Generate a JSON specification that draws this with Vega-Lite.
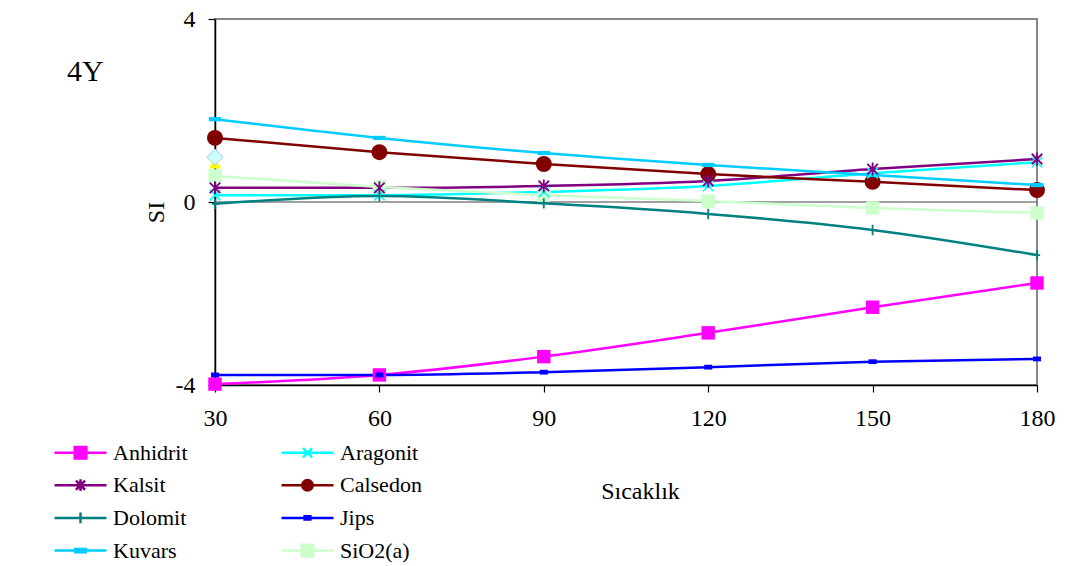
{
  "$schema": "https://vega.github.io/schema/vega-lite/v6.json",
  "width": 822,
  "height": 366,
  "autosize": "none",
  "padding": {"left": 215, "top": 19, "right": 53, "bottom": 181},
  "background": "white",
  "title": {
    "text": "4Y",
    "anchor": "start",
    "frame": "group",
    "orient": "top",
    "offset": 0,
    "dx": -148,
    "dy": 104,
    "baseline": "alphabetic",
    "font": "Liberation Serif",
    "fontSize": 30,
    "fontWeight": "normal",
    "color": "black"
  },
  "config": {
    "view": {"stroke": "#888888", "strokeWidth": 2},
    "axis": {
      "labelFont": "Liberation Serif",
      "labelFontSize": 24,
      "labelColor": "black",
      "titleFont": "Liberation Serif",
      "titleFontSize": 24,
      "titleFontWeight": "normal",
      "titleColor": "black",
      "domainColor": "black",
      "domainWidth": 1.5,
      "tickColor": "black",
      "tickWidth": 1.2,
      "tickSize": 7,
      "grid": false
    },
    "legend": {
      "labelFont": "Liberation Serif",
      "labelFontSize": 22,
      "labelColor": "black",
      "labelLimit": 0
    }
  },
  "resolve": {"legend": {"color": "independent", "shape": "independent"}},
  "datasets": {
    "si": [
      {"mineral": "Anhidrit", "T": 30, "SI": -3.98},
      {"mineral": "Anhidrit", "T": 60, "SI": -3.78},
      {"mineral": "Anhidrit", "T": 90, "SI": -3.38},
      {"mineral": "Anhidrit", "T": 120, "SI": -2.86},
      {"mineral": "Anhidrit", "T": 150, "SI": -2.3},
      {"mineral": "Anhidrit", "T": 180, "SI": -1.77},
      {"mineral": "Aragonit", "T": 30, "SI": 0.15},
      {"mineral": "Aragonit", "T": 60, "SI": 0.15},
      {"mineral": "Aragonit", "T": 90, "SI": 0.22},
      {"mineral": "Aragonit", "T": 120, "SI": 0.35},
      {"mineral": "Aragonit", "T": 150, "SI": 0.63},
      {"mineral": "Aragonit", "T": 180, "SI": 0.87},
      {"mineral": "Kalsit", "T": 30, "SI": 0.31},
      {"mineral": "Kalsit", "T": 60, "SI": 0.31},
      {"mineral": "Kalsit", "T": 90, "SI": 0.35},
      {"mineral": "Kalsit", "T": 120, "SI": 0.46},
      {"mineral": "Kalsit", "T": 150, "SI": 0.72},
      {"mineral": "Kalsit", "T": 180, "SI": 0.94},
      {"mineral": "Calsedon", "T": 30, "SI": 1.4},
      {"mineral": "Calsedon", "T": 60, "SI": 1.09},
      {"mineral": "Calsedon", "T": 90, "SI": 0.83},
      {"mineral": "Calsedon", "T": 120, "SI": 0.61},
      {"mineral": "Calsedon", "T": 150, "SI": 0.44},
      {"mineral": "Calsedon", "T": 180, "SI": 0.26},
      {"mineral": "Dolomit", "T": 30, "SI": -0.04},
      {"mineral": "Dolomit", "T": 60, "SI": 0.13},
      {"mineral": "Dolomit", "T": 90, "SI": -0.03},
      {"mineral": "Dolomit", "T": 120, "SI": -0.26},
      {"mineral": "Dolomit", "T": 150, "SI": -0.61},
      {"mineral": "Dolomit", "T": 180, "SI": -1.16},
      {"mineral": "Jips", "T": 30, "SI": -3.78},
      {"mineral": "Jips", "T": 60, "SI": -3.78},
      {"mineral": "Jips", "T": 90, "SI": -3.72},
      {"mineral": "Jips", "T": 120, "SI": -3.61},
      {"mineral": "Jips", "T": 150, "SI": -3.49},
      {"mineral": "Jips", "T": 180, "SI": -3.43},
      {"mineral": "Kuvars", "T": 30, "SI": 1.81},
      {"mineral": "Kuvars", "T": 60, "SI": 1.4},
      {"mineral": "Kuvars", "T": 90, "SI": 1.07},
      {"mineral": "Kuvars", "T": 120, "SI": 0.81},
      {"mineral": "Kuvars", "T": 150, "SI": 0.59},
      {"mineral": "Kuvars", "T": 180, "SI": 0.37},
      {"mineral": "SiO2(a)", "T": 30, "SI": 0.57},
      {"mineral": "SiO2(a)", "T": 60, "SI": 0.33},
      {"mineral": "SiO2(a)", "T": 90, "SI": 0.15},
      {"mineral": "SiO2(a)", "T": 120, "SI": 0.02},
      {"mineral": "SiO2(a)", "T": 150, "SI": -0.13},
      {"mineral": "SiO2(a)", "T": 180, "SI": -0.24}
    ],
    "single": [
      {"series": "triangle", "T": 30, "SI": 0.85},
      {"series": "diamond", "T": 30, "SI": 0.98}
    ]
  },
  "data": {"name": "si"},
  "encoding": {
    "x": {
      "field": "T",
      "type": "quantitative",
      "scale": {"domain": [30, 180], "nice": false, "zero": false},
      "axis": {
        "values": [30, 60, 90, 120, 150, 180],
        "title": "Sıcaklık",
        "titleX": 425,
        "titleY": 113,
        "titleBaseline": "alphabetic",
        "labelPadding": 14,
        "labelFlush": false
      }
    },
    "y": {
      "field": "SI",
      "type": "quantitative",
      "scale": {"domain": [-4, 4], "nice": false, "zero": false},
      "axis": {
        "values": [-4, 0, 4],
        "labelExpr": "datum.value < 0 ? '-' + abs(datum.value) : datum.label",
        "title": "SI",
        "titleX": -52,
        "titleY": 193,
        "titleAngle": 270,
        "titleAlign": "center",
        "titleBaseline": "alphabetic",
        "labelPadding": 13,
        "labelFlush": false
      }
    }
  },
  "layer": [
    {
      "data": {"values": [{"SI": 0}]},
      "mark": {"type": "rule", "color": "#808080", "strokeWidth": 1.5},
      "encoding": {"x": null, "y": {"field": "SI", "type": "quantitative"}}
    },
    {
      "mark": {"type": "line", "interpolate": "monotone", "strokeWidth": 2.5},
      "encoding": {
        "color": {
          "field": "mineral",
          "type": "nominal",
          "legend": null,
          "scale": {
            "domain": ["Anhidrit", "Aragonit", "Kalsit", "Calsedon", "Dolomit", "Jips", "Kuvars", "SiO2(a)"],
            "range": ["#FF00FF", "#00FFFF", "#800080", "#800000", "#008080", "#0000FF", "#00CCFF", "#CCFFCC"]
          }
        },
        "order": {"field": "T", "type": "quantitative"}
      }
    },
    {
      "transform": [{"filter": "datum.mineral === 'Anhidrit' || datum.mineral === 'SiO2(a)'"}],
      "mark": {"type": "point", "shape": "square", "filled": true, "opacity": 1, "size": 180},
      "encoding": {"color": {"field": "mineral", "type": "nominal", "legend": null}}
    },
    {
      "transform": [{"filter": "datum.mineral === 'Calsedon'"}],
      "mark": {"type": "point", "shape": "circle", "filled": true, "opacity": 1, "size": 256},
      "encoding": {"color": {"field": "mineral", "type": "nominal", "legend": null}}
    },
    {
      "transform": [{"filter": "datum.mineral === 'Jips'"}],
      "mark": {"type": "point", "shape": "M-1,-0.6H1V0.6H-1Z", "filled": true, "opacity": 1, "size": 64},
      "encoding": {"color": {"field": "mineral", "type": "nominal", "legend": null}}
    },
    {
      "transform": [{"filter": "datum.mineral === 'Kuvars'"}],
      "mark": {"type": "point", "shape": "M-1,-0.35H1V0.35H-1Z", "filled": true, "opacity": 1, "size": 150},
      "encoding": {"color": {"field": "mineral", "type": "nominal", "legend": null}}
    },
    {
      "transform": [{"filter": "datum.mineral === 'Aragonit'"}],
      "mark": {"type": "point", "shape": "M-1,-1L1,1M-1,1L1,-1", "filled": false, "opacity": 1, "size": 110, "strokeWidth": 1.6},
      "encoding": {"color": {"field": "mineral", "type": "nominal", "legend": null}}
    },
    {
      "transform": [{"filter": "datum.mineral === 'Kalsit'"}],
      "mark": {"type": "point", "shape": "M-1,-1L1,1M-1,1L1,-1M0,-1.25V1.25", "filled": false, "opacity": 1, "size": 110, "strokeWidth": 1.8},
      "encoding": {"color": {"field": "mineral", "type": "nominal", "legend": null}}
    },
    {
      "transform": [{"filter": "datum.mineral === 'Dolomit'"}],
      "mark": {"type": "point", "shape": "M0,-1V1M-0.6,0H0.6", "filled": false, "opacity": 1, "size": 110, "strokeWidth": 1.8},
      "encoding": {"color": {"field": "mineral", "type": "nominal", "legend": null}}
    },
    {
      "data": {"name": "single"},
      "transform": [{"filter": "datum.series === 'triangle'"}],
      "mark": {"type": "point", "shape": "triangle-up", "filled": true, "opacity": 1, "size": 150, "color": "#FFFF00"}
    },
    {
      "data": {"name": "single"},
      "transform": [{"filter": "datum.series === 'diamond'"}],
      "mark": {"type": "point", "shape": "diamond", "filled": true, "opacity": 1, "size": 260, "fill": "#CCFFFF", "stroke": "#99CCFF", "strokeWidth": 1}
    },
    {
      "mark": {"type": "point", "filled": true, "opacity": 0},
      "encoding": {
        "color": {
          "field": "mineral",
          "type": "nominal",
          "legend": {
            "title": null,
            "orient": "none",
            "direction": "horizontal",
            "legendX": -162,
            "legendY": 419,
            "columns": 2,
            "columnPadding": 88,
            "rowPadding": 6.7,
            "padding": 0,
            "symbolSize": 676,
            "labelOffset": 31,
            "labelFont": "Liberation Serif",
            "labelFontSize": 22,
            "labelColor": "black",
            "symbolStrokeWidth": 2.5,
            "encode": {
              "symbols": {
                "update": {
                  "fill": {"scale": "color", "field": "value"},
                  "stroke": {"scale": "color", "field": "value"},
                  "opacity": {"value": 1},
                  "strokeWidth": {"value": 2.5}
                }
              },
              "labels": {
                "update": {
                  "font": {"value": "Liberation Serif"},
                  "fontSize": {"value": 22},
                  "fill": {"value": "black"}
                }
              }
            }
          }
        },
        "shape": {
          "field": "mineral",
          "type": "nominal",
          "scale": {
            "domain": ["Anhidrit", "Aragonit", "Kalsit", "Calsedon", "Dolomit", "Jips", "Kuvars", "SiO2(a)"],
            "range": [
              "M-1,0H3M0.55,-0.45H1.45V0.45H0.55Z",
              "M-1,0H3M0.65,-0.35L1.35,0.35M0.65,0.35L1.35,-0.35",
              "M-1,0H3M0.65,-0.35L1.35,0.35M0.65,0.35L1.35,-0.35M1,-0.45V0.45",
              "M-1,0H3M1.4,0A0.4,0.4 0 1 1 0.6,0A0.4,0.4 0 1 1 1.4,0Z",
              "M-1,0H3M1,-0.42V0.42",
              "M-1,0H3M0.78,-0.12H1.22V0.12H0.78Z",
              "M-1,0H3M0.6,-0.12H1.4V0.12H0.6Z",
              "M-1,0H3M0.55,-0.45H1.45V0.45H0.55Z"
            ]
          },
          "legend": {
            "title": null,
            "orient": "none",
            "direction": "horizontal",
            "legendX": -162,
            "legendY": 419,
            "columns": 2,
            "columnPadding": 88,
            "rowPadding": 6.7,
            "padding": 0,
            "symbolSize": 676,
            "labelOffset": 31,
            "labelFont": "Liberation Serif",
            "labelFontSize": 22,
            "labelColor": "black",
            "symbolStrokeWidth": 2.5
          }
        }
      }
    }
  ]
}
